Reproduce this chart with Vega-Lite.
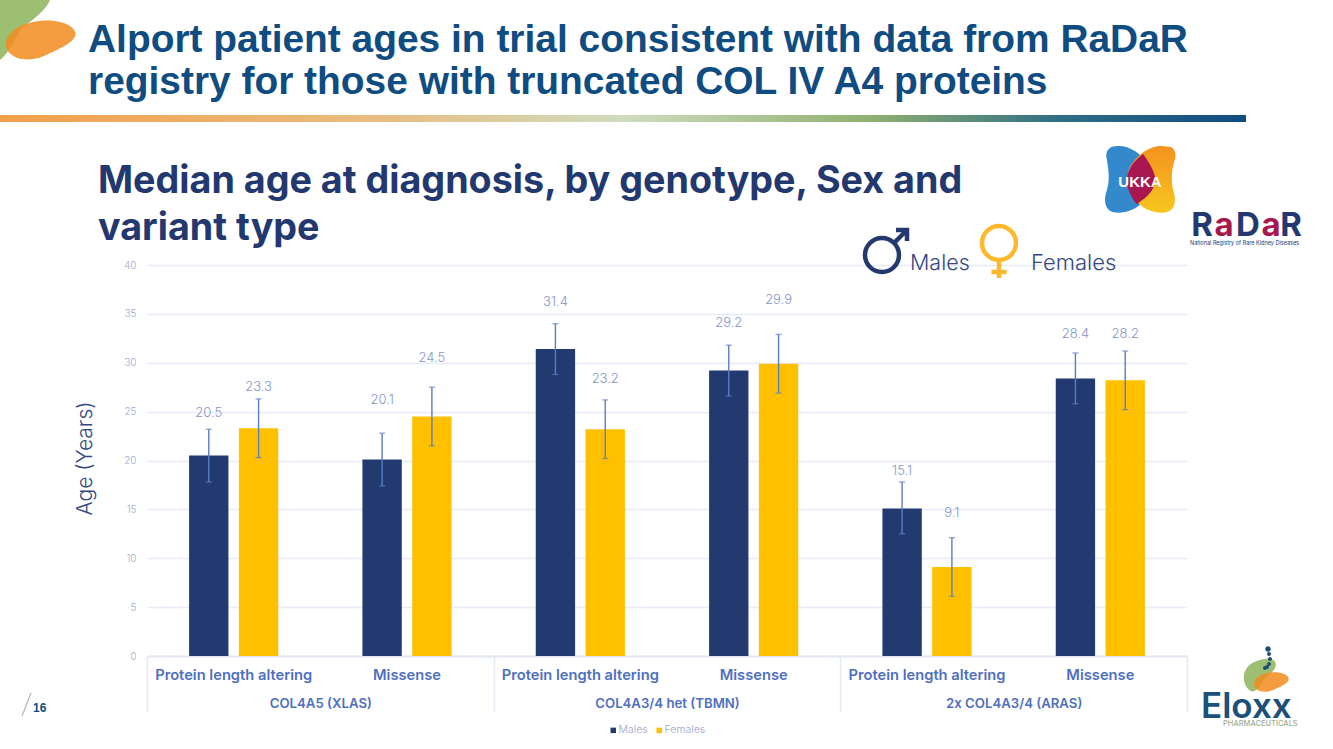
{"$schema":"https://vega.github.io/schema/vega-lite/v6.json","width":1040,"height":391,"autosize":{"type":"none"},"padding":{"left":147,"top":265,"right":146,"bottom":93},"background":"white",
"title":{"text":["Alport patient ages in trial consistent with data from RaDaR","registry for those with truncated COL IV A4 proteins"],"anchor":"start","frame":"group","dx":-59,"dy":133,"offset":0,"font":"Liberation Sans","fontWeight":"bold","fontSize":38.9,"lineHeight":42,"color":"#0F4C81","baseline":"alphabetic"},
"config":{"view":{"stroke":null},"font":"Inter"},
"layer":[
{"data":{"values":[
{"genotype":"COL4A5 (XLAS)","key":"COL4A5 (XLAS)|Protein length altering","sex":"Males","age":20.5,"low":17.8,"high":23.2,"labelAt":24.9},
{"genotype":"COL4A5 (XLAS)","key":"COL4A5 (XLAS)|Protein length altering","sex":"Females","age":23.3,"low":20.3,"high":26.3,"labelAt":27.5},
{"genotype":"COL4A5 (XLAS)","key":"COL4A5 (XLAS)|Missense","sex":"Males","age":20.1,"low":17.4,"high":22.8,"labelAt":26.2},
{"genotype":"COL4A5 (XLAS)","key":"COL4A5 (XLAS)|Missense","sex":"Females","age":24.5,"low":21.5,"high":27.5,"labelAt":30.5},
{"genotype":"COL4A3/4 het (TBMN)","key":"COL4A3/4 het (TBMN)|Protein length altering","sex":"Males","age":31.4,"low":28.8,"high":34.0,"labelAt":36.2},
{"genotype":"COL4A3/4 het (TBMN)","key":"COL4A3/4 het (TBMN)|Protein length altering","sex":"Females","age":23.2,"low":20.2,"high":26.2,"labelAt":28.3},
{"genotype":"COL4A3/4 het (TBMN)","key":"COL4A3/4 het (TBMN)|Missense","sex":"Males","age":29.2,"low":26.6,"high":31.8,"labelAt":34.1},
{"genotype":"COL4A3/4 het (TBMN)","key":"COL4A3/4 het (TBMN)|Missense","sex":"Females","age":29.9,"low":26.9,"high":32.9,"labelAt":36.4},
{"genotype":"2x COL4A3/4  (ARAS)","key":"2x COL4A3/4  (ARAS)|Protein length altering","sex":"Males","age":15.1,"low":12.5,"high":17.8,"labelAt":18.9},
{"genotype":"2x COL4A3/4  (ARAS)","key":"2x COL4A3/4  (ARAS)|Protein length altering","sex":"Females","age":9.1,"low":6.1,"high":12.1,"labelAt":14.6},
{"genotype":"2x COL4A3/4  (ARAS)","key":"2x COL4A3/4  (ARAS)|Missense","sex":"Males","age":28.4,"low":25.8,"high":31.0,"labelAt":32.9},
{"genotype":"2x COL4A3/4  (ARAS)","key":"2x COL4A3/4  (ARAS)|Missense","sex":"Females","age":28.2,"low":25.2,"high":31.2,"labelAt":32.9}
]},
"encoding":{
"x":{"field":"key","type":"nominal","sort":null,"scale":{"paddingInner":0,"paddingOuter":0},"axis":{"orient":"bottom","title":null,"labelExpr":"split(datum.label,'|')[1]","labelAngle":0,"labelFont":"Inter","labelFontWeight":600,"labelFontSize":14.7,"labelColor":"#4F6FBF","labelPadding":11,"ticks":false,"domainColor":"#E4E9F4","domainWidth":2,"labelBaseline":"top"}},
"xOffset":{"field":"sex","type":"nominal","sort":["Males","Females"],"scale":{"paddingInner":0.21,"paddingOuter":0.845}}
},
"layer":[
{"mark":{"type":"bar"},"encoding":{"y":{"field":"age","type":"quantitative","scale":{"domain":[0,40],"nice":false},"axis":{"title":"Age (Years)","values":[0,5,10,15,20,25,30,35,40],"grid":true,"gridColor":"#E6EBF5","gridWidth":1.5,"domain":false,"ticks":false,"labelPadding":11,"labelFont":"Inter","labelFontWeight":300,"labelFontSize":10,"labelColor":"#9FACD6","titleFont":"Inter","titleFontWeight":300,"titleFontSize":21,"titleColor":"#34477F","titleX":-52,"titleY":193}},
"color":{"field":"sex","type":"nominal","sort":["Males","Females"],"scale":{"domain":["Males","Females"],"range":["#223A70","#FFC000"]},"legend":{"orient":"none","legendX":461,"legendY":460,"direction":"horizontal","title":null,"symbolType":"square","symbolSize":30,"labelFontSize":10.5,"labelFont":"Inter","labelFontWeight":300,"labelColor":"#9AA5C9","labelOffset":0,"columnPadding":6}}}},
{"mark":{"type":"rule","color":"#5B7DC4","strokeWidth":1.4},"encoding":{"y":{"field":"low","type":"quantitative"},"y2":{"field":"high"}}},
{"mark":{"type":"tick","color":"#5B7DC4","size":6,"thickness":1.3,"orient":"horizontal"},"encoding":{"y":{"field":"low","type":"quantitative"}}},
{"mark":{"type":"tick","color":"#5B7DC4","size":6,"thickness":1.3,"orient":"horizontal"},"encoding":{"y":{"field":"high","type":"quantitative"}}},
{"mark":{"type":"text","font":"Inter","fontWeight":300,"fontSize":13,"color":"#8496C8"},"encoding":{"y":{"field":"labelAt","type":"quantitative"},"text":{"field":"age","type":"quantitative","format":".1f"}}}
]},
{"data":{"values":[{"genotype":"COL4A5 (XLAS)"},{"genotype":"COL4A3/4 het (TBMN)"},{"genotype":"2x COL4A3/4  (ARAS)"}]},
"mark":{"type":"rule","opacity":0},
"encoding":{"x":{"field":"genotype","type":"nominal","sort":null,"scale":{"paddingInner":0,"paddingOuter":0},"axis":{"orient":"bottom","title":null,"labelAngle":0,"tickBand":"extent","tickSize":56,"tickColor":"#E4E9F4","tickWidth":1.5,"domain":false,"labelPadding":-15,"labelBaseline":"top","labelFont":"Inter","labelFontWeight":600,"labelFontSize":13.2,"labelColor":"#4F6FBF"}}}},
{"data":{"values":[{"item":"slide"}]},
"layer":[
{"mark":{"type":"rect","fill":{"x1":0,"y1":0,"x2":1,"y2":0,"gradient":"linear","stops":[{"offset":0,"color":"#F2A04A"},{"offset":0.3,"color":"#E9BC80"},{"offset":0.5,"color":"#CFDCBE"},{"offset":0.7,"color":"#8FB06F"},{"offset":0.85,"color":"#2F6E86"},{"offset":1,"color":"#0F4C81"}]}},
"encoding":{"x":{"datum":0,"type":"quantitative","scale":{"domain":[0,1333],"range":[-147,1186],"nice":false},"axis":null},"x2":{"datum":1246},"y":{"datum":115,"type":"quantitative","scale":{"domain":[0,749],"range":[-265,484],"nice":false},"axis":null},"y2":{"datum":122}}},
{"mark":{"type":"point","shape":"M-1,-1.2 L1,-1.2 C0.85,-0.8 0.3,-0.4 -0.1,-0.1 C-0.4,0.3 -0.6,0.9 -1,1.2 Z","size":2500,"filled":true,"color":"#9DBF72","opacity":1},"encoding":{"x":{"datum":25,"type":"quantitative","scale":{"domain":[0,1333],"range":[-147,1186],"nice":false},"axis":null},"y":{"datum":30,"type":"quantitative","scale":{"domain":[0,749],"range":[-265,484],"nice":false},"axis":null}}},
{"mark":{"type":"point","shape":"M-1.36,0.1 C-1.3,-0.4 -0.6,-0.75 0.2,-0.78 C0.8,-0.8 1.4,-0.6 1.42,-0.25 C1.42,0.05 0.9,0.3 0.35,0.55 C0,0.75 -0.5,0.85 -0.9,0.72 C-1.2,0.6 -1.4,0.4 -1.36,0.1 Z","size":2500,"filled":true,"color":"#F28C1E","opacity":0.85},"encoding":{"x":{"datum":40,"type":"quantitative","scale":{"domain":[0,1333],"range":[-147,1186],"nice":false},"axis":null},"y":{"datum":40,"type":"quantitative","scale":{"domain":[0,749],"range":[-265,484],"nice":false},"axis":null}}},
{"mark":{"type":"text","text":["Median age at diagnosis, by genotype, Sex and","variant type"],"font":"Inter","fontWeight":700,"fontSize":37.7,"lineHeight":47,"color":"#22386F","align":"left","baseline":"alphabetic"},"encoding":{"x":{"datum":98,"type":"quantitative","scale":{"domain":[0,1333],"range":[-147,1186],"nice":false},"axis":null},"y":{"datum":193,"type":"quantitative","scale":{"domain":[0,749],"range":[-265,484],"nice":false},"axis":null}}},
{"mark":{"type":"point","shape":"M0.36,0.2 A0.68,0.68 0 1 1 -1,0.2 A0.68,0.68 0 1 1 0.36,0.2 Z M0.16,-0.28 L0.68,-0.8 M0.24,-0.8 L0.68,-0.8 L0.68,-0.36","size":2500,"filled":false,"stroke":"#22386F","strokeWidth":4.5,"opacity":1},"encoding":{"x":{"datum":890,"type":"quantitative","scale":{"domain":[0,1333],"range":[-147,1186],"nice":false},"axis":null},"y":{"datum":250,"type":"quantitative","scale":{"domain":[0,749],"range":[-265,484],"nice":false},"axis":null}}},
{"mark":{"type":"point","shape":"M0.68,-0.48 A0.68,0.68 0 1 1 -0.68,-0.48 A0.68,0.68 0 1 1 0.68,-0.48 Z M0,0.2 L0,0.92 M-0.3,0.68 L0.3,0.68","size":2500,"filled":false,"stroke":"#FDB92E","strokeWidth":4.5,"opacity":1},"encoding":{"x":{"datum":999,"type":"quantitative","scale":{"domain":[0,1333],"range":[-147,1186],"nice":false},"axis":null},"y":{"datum":255,"type":"quantitative","scale":{"domain":[0,749],"range":[-265,484],"nice":false},"axis":null}}},
{"mark":{"type":"text","text":"Males","font":"Inter","fontWeight":300,"fontSize":21.5,"color":"#34477F","align":"left","baseline":"alphabetic"},"encoding":{"x":{"datum":910,"type":"quantitative","scale":{"domain":[0,1333],"range":[-147,1186],"nice":false},"axis":null},"y":{"datum":270,"type":"quantitative","scale":{"domain":[0,749],"range":[-265,484],"nice":false},"axis":null}}},
{"mark":{"type":"text","text":"Females","font":"Inter","fontWeight":300,"fontSize":22,"color":"#34477F","align":"left","baseline":"alphabetic"},"encoding":{"x":{"datum":1031,"type":"quantitative","scale":{"domain":[0,1333],"range":[-147,1186],"nice":false},"axis":null},"y":{"datum":270,"type":"quantitative","scale":{"domain":[0,749],"range":[-265,484],"nice":false},"axis":null}}},
{"mark":{"type":"point","shape":"M-0.8,-0.95 C-0.4,-1.05 0,-0.8 0.2,-0.5 C0.45,-0.2 0.4,0.3 0.1,0.6 C-0.1,0.85 -0.4,0.95 -0.7,0.93 C-1,0.9 -1.05,0.6 -0.95,0.3 C-0.85,0 -0.9,-0.3 -0.95,-0.6 C-1,-0.8 -0.9,-0.9 -0.8,-0.95 Z","size":4900,"filled":true,"color":"#3488CC","opacity":1},"encoding":{"x":{"datum":1140,"type":"quantitative","scale":{"domain":[0,1333],"range":[-147,1186],"nice":false},"axis":null},"y":{"datum":180,"type":"quantitative","scale":{"domain":[0,749],"range":[-265,484],"nice":false},"axis":null}}},
{"mark":{"type":"point","shape":"M0.8,-0.95 C0.95,-0.98 1.05,-0.8 1,-0.6 C0.9,-0.3 0.88,0 0.95,0.3 C1.05,0.6 1,0.9 0.7,0.93 C0.4,0.95 0.1,0.85 -0.1,0.6 C-0.4,0.3 -0.45,-0.2 -0.2,-0.5 C0,-0.8 0.4,-1.05 0.8,-0.95 Z","size":4900,"filled":true,"fill":{"x1":0,"y1":0,"x2":0,"y2":1,"gradient":"linear","stops":[{"offset":0,"color":"#F4921E"},{"offset":1,"color":"#F6C71E"}]},"opacity":1},"encoding":{"x":{"datum":1140,"type":"quantitative","scale":{"domain":[0,1333],"range":[-147,1186],"nice":false},"axis":null},"y":{"datum":180,"type":"quantitative","scale":{"domain":[0,749],"range":[-265,484],"nice":false},"axis":null}}},
{"mark":{"type":"point","shape":"M0.09,-0.74 C0.3,-0.45 0.5,-0.1 0.42,0.1 C0.35,0.4 0.1,0.55 -0.09,0.69 C-0.3,0.45 -0.42,0.1 -0.37,-0.1 C-0.3,-0.4 -0.1,-0.6 0.09,-0.74 Z","size":4900,"filled":true,"color":"#A8174F","opacity":1},"encoding":{"x":{"datum":1140,"type":"quantitative","scale":{"domain":[0,1333],"range":[-147,1186],"nice":false},"axis":null},"y":{"datum":180,"type":"quantitative","scale":{"domain":[0,749],"range":[-265,484],"nice":false},"axis":null}}},
{"mark":{"type":"text","text":"UKKA","font":"Liberation Sans","fontWeight":"bold","fontSize":15,"color":"white","align":"center","baseline":"middle"},"encoding":{"x":{"datum":1140,"type":"quantitative","scale":{"domain":[0,1333],"range":[-147,1186],"nice":false},"axis":null},"y":{"datum":182,"type":"quantitative","scale":{"domain":[0,749],"range":[-265,484],"nice":false},"axis":null}}},
{"mark":{"type":"text","text":"R","font":"Inter","fontWeight":700,"fontSize":33,"color":"#22386F","align":"center","baseline":"alphabetic"},"encoding":{"x":{"datum":1202,"type":"quantitative","scale":{"domain":[0,1333],"range":[-147,1186],"nice":false},"axis":null},"y":{"datum":236,"type":"quantitative","scale":{"domain":[0,749],"range":[-265,484],"nice":false},"axis":null}}},
{"mark":{"type":"text","text":"a","font":"Inter","fontWeight":700,"fontSize":33,"color":"#A8174F","align":"center","baseline":"alphabetic"},"encoding":{"x":{"datum":1224,"type":"quantitative","scale":{"domain":[0,1333],"range":[-147,1186],"nice":false},"axis":null},"y":{"datum":236,"type":"quantitative","scale":{"domain":[0,749],"range":[-265,484],"nice":false},"axis":null}}},
{"mark":{"type":"text","text":"D","font":"Inter","fontWeight":700,"fontSize":33,"color":"#22386F","align":"center","baseline":"alphabetic"},"encoding":{"x":{"datum":1248,"type":"quantitative","scale":{"domain":[0,1333],"range":[-147,1186],"nice":false},"axis":null},"y":{"datum":236,"type":"quantitative","scale":{"domain":[0,749],"range":[-265,484],"nice":false},"axis":null}}},
{"mark":{"type":"text","text":"a","font":"Inter","fontWeight":700,"fontSize":33,"color":"#A8174F","align":"center","baseline":"alphabetic"},"encoding":{"x":{"datum":1271,"type":"quantitative","scale":{"domain":[0,1333],"range":[-147,1186],"nice":false},"axis":null},"y":{"datum":236,"type":"quantitative","scale":{"domain":[0,749],"range":[-265,484],"nice":false},"axis":null}}},
{"mark":{"type":"text","text":"R","font":"Inter","fontWeight":700,"fontSize":33,"color":"#22386F","align":"center","baseline":"alphabetic"},"encoding":{"x":{"datum":1291,"type":"quantitative","scale":{"domain":[0,1333],"range":[-147,1186],"nice":false},"axis":null},"y":{"datum":236,"type":"quantitative","scale":{"domain":[0,749],"range":[-265,484],"nice":false},"axis":null}}},
{"mark":{"type":"text","text":"National Registry of Rare Kidney Diseases","font":"Inter","fontSize":5.5,"color":"#22386F","align":"left","baseline":"alphabetic"},"encoding":{"x":{"datum":1190,"type":"quantitative","scale":{"domain":[0,1333],"range":[-147,1186],"nice":false},"axis":null},"y":{"datum":245,"type":"quantitative","scale":{"domain":[0,749],"range":[-265,484],"nice":false},"axis":null}}},
{"mark":{"type":"rule","color":"#B5B5B5","strokeWidth":1.2},"encoding":{"x":{"datum":22,"type":"quantitative","scale":{"domain":[0,1333],"range":[-147,1186],"nice":false},"axis":null},"x2":{"datum":31},"y":{"datum":716,"type":"quantitative","scale":{"domain":[0,749],"range":[-265,484],"nice":false},"axis":null},"y2":{"datum":693}}},
{"mark":{"type":"text","text":"16","font":"Liberation Sans","fontWeight":"bold","fontSize":12,"color":"#0F4C81","align":"left","baseline":"alphabetic"},"encoding":{"x":{"datum":33,"type":"quantitative","scale":{"domain":[0,1333],"range":[-147,1186],"nice":false},"axis":null},"y":{"datum":712,"type":"quantitative","scale":{"domain":[0,749],"range":[-265,484],"nice":false},"axis":null}}},
{"mark":{"type":"point","shape":"M0.5,-1.3 C1,-1.35 1.35,-1.1 1.25,-0.7 C1.1,-0.2 0.5,0.1 0.2,0.5 C0,1 -0.4,1.4 -0.7,1.3 C-1.2,1.1 -1.45,0.3 -1.2,-0.3 C-0.9,-1 -0.2,-1.2 0.5,-1.3 Z","size":625,"filled":true,"color":"#9DBF72","opacity":1},"encoding":{"x":{"datum":1260,"type":"quantitative","scale":{"domain":[0,1333],"range":[-147,1186],"nice":false},"axis":null},"y":{"datum":675,"type":"quantitative","scale":{"domain":[0,749],"range":[-265,484],"nice":false},"axis":null}}},
{"mark":{"type":"point","shape":"M-1.36,0.1 C-1.3,-0.4 -0.6,-0.75 0.2,-0.78 C0.8,-0.8 1.4,-0.6 1.42,-0.25 C1.42,0.05 0.9,0.3 0.35,0.55 C0,0.75 -0.5,0.85 -0.9,0.72 C-1.2,0.6 -1.4,0.4 -1.36,0.1 Z","size":625,"filled":true,"color":"#F28C1E","opacity":0.85},"encoding":{"x":{"datum":1271,"type":"quantitative","scale":{"domain":[0,1333],"range":[-147,1186],"nice":false},"axis":null},"y":{"datum":682,"type":"quantitative","scale":{"domain":[0,749],"range":[-265,484],"nice":false},"axis":null}}},
{"mark":{"type":"point","shape":"M-0.22,-0.72 a0.22,0.22 0 1 0 0.44,0 a0.22,0.22 0 1 0 -0.44,0 Z M-0.08,-0.32 a0.16,0.16 0 1 0 0.32,0 a0.16,0.16 0 1 0 -0.32,0 Z M0,0.08 a0.16,0.16 0 1 0 0.32,0 a0.16,0.16 0 1 0 -0.32,0 Z M-0.08,0.48 a0.16,0.16 0 1 0 0.32,0 a0.16,0.16 0 1 0 -0.32,0 Z M-0.24,0.72 a0.16,0.16 0 1 0 0.32,0 a0.16,0.16 0 1 0 -0.32,0 Z M-0.4,0.8 a0.16,0.16 0 1 0 0.32,0 a0.16,0.16 0 1 0 -0.32,0 Z","size":625,"filled":true,"color":"#1B4F7A","opacity":1},"encoding":{"x":{"datum":1268,"type":"quantitative","scale":{"domain":[0,1333],"range":[-147,1186],"nice":false},"axis":null},"y":{"datum":658,"type":"quantitative","scale":{"domain":[0,749],"range":[-265,484],"nice":false},"axis":null}}},
{"mark":{"type":"text","text":"Eloxx","font":"Inter","fontWeight":600,"fontSize":35,"color":"#1B5078","align":"left","baseline":"alphabetic"},"encoding":{"x":{"datum":1201,"type":"quantitative","scale":{"domain":[0,1333],"range":[-147,1186],"nice":false},"axis":null},"y":{"datum":718,"type":"quantitative","scale":{"domain":[0,749],"range":[-265,484],"nice":false},"axis":null}}},
{"mark":{"type":"text","text":"PHARMACEUTICALS","font":"Inter","fontWeight":500,"fontSize":7.5,"color":"#A3AE92","align":"left","baseline":"alphabetic"},"encoding":{"x":{"datum":1223,"type":"quantitative","scale":{"domain":[0,1333],"range":[-147,1186],"nice":false},"axis":null},"y":{"datum":726,"type":"quantitative","scale":{"domain":[0,749],"range":[-265,484],"nice":false},"axis":null}}}
]}
],
"resolve":{"scale":{"x":"independent","y":"independent","color":"independent"},"axis":{"x":"independent","y":"independent"}}
}
